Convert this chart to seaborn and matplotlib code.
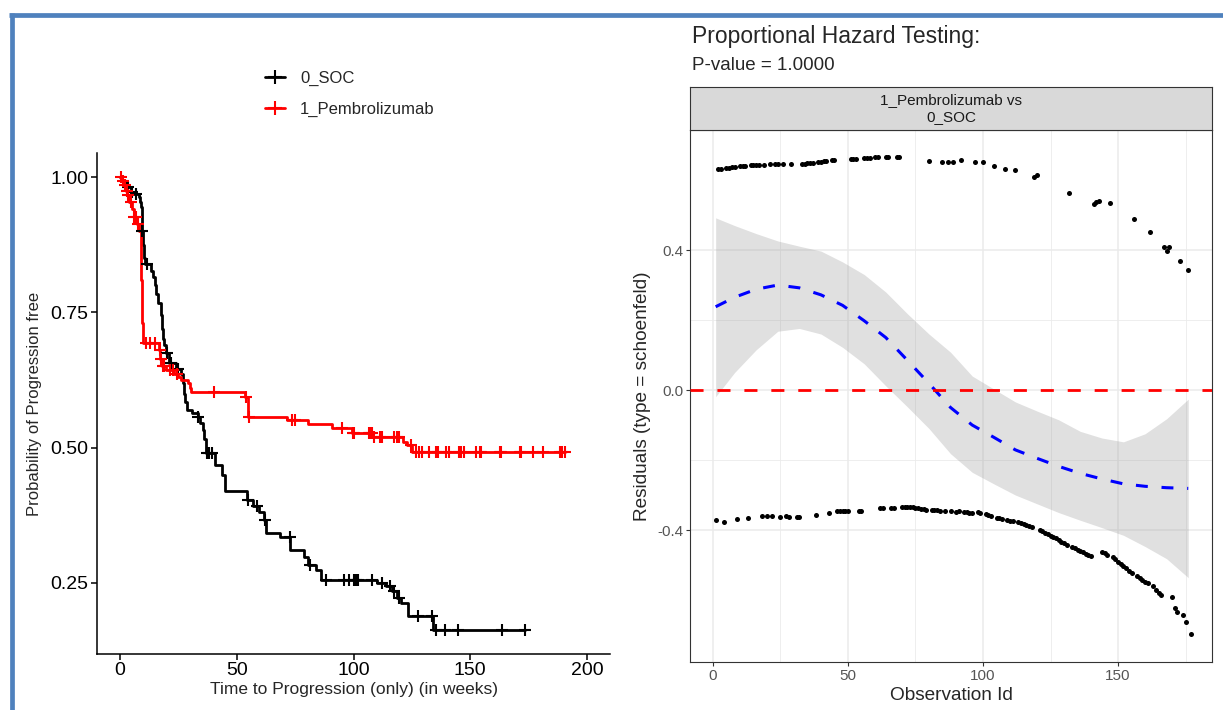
import numpy as np
import pandas as pd
import matplotlib
matplotlib.use("Agg")
import matplotlib.pyplot as plt
from matplotlib.lines import Line2D
import seaborn as sns

# ---------------- Kaplan-Meier estimates (time in weeks, survival after each step) ----------------
soc_time = [0, 1.0, 2.5, 3.2, 4.5, 6.0, 8.0, 8.6, 9.0, 9.3, 9.6, 9.9, 10.2, 10.5, 13.1,
            14.0, 14.8, 15.5, 16.3, 17.6, 18.0, 18.5, 19.0, 19.8, 21.0, 24.0, 26.0, 26.8,
            27.5, 28.0, 28.8, 31.0, 33.3, 34.2, 35.4, 36.0, 36.8, 40.5, 43.5, 45.0, 54.5,
            57.0, 59.5, 61.5, 62.7, 68.4, 73.0, 78.7, 80.5, 84.0, 86.0, 110.1, 114.0,
            116.5, 118.5, 120.5, 123.2, 134.2]
soc_surv = [1.0, 0.994, 0.988, 0.982, 0.973, 0.970, 0.964, 0.955, 0.945, 0.925, 0.900,
            0.875, 0.850, 0.840, 0.827, 0.816, 0.800, 0.785, 0.767, 0.745, 0.720, 0.700,
            0.690, 0.675, 0.656, 0.645, 0.637, 0.619, 0.600, 0.585, 0.570, 0.563, 0.557,
            0.545, 0.533, 0.515, 0.490, 0.468, 0.450, 0.419, 0.403, 0.391, 0.380, 0.366,
            0.342, 0.335, 0.311, 0.298, 0.282, 0.274, 0.255, 0.249, 0.243, 0.234, 0.222,
            0.213, 0.188, 0.163]
soc_cens = [3.5, 5.2, 7.0, 9.6, 11.5, 20.3, 21.8, 24.9, 33.3, 37.3, 38.3, 39.3, 54.8,
            58.5, 62.0, 72.8, 81.4, 88.3, 95.8, 98.2, 100.1, 101.1, 101.9, 107.7, 112.0,
            115.5, 117.5, 119.5, 127.4, 133.4, 135.3, 139.1, 144.9, 163.6, 173.4]

pem_time = [0, 0.8, 1.8, 2.5, 3.2, 4.0, 5.0, 5.8, 7.4, 8.2, 8.8, 9.0, 9.2, 9.4, 9.6, 9.8,
            16.7, 17.2, 17.9, 19.5, 23.0, 24.7, 26.0, 29.0, 30.0, 30.4, 53.4, 54.8, 71.3,
            80.7, 90.8, 99.4, 108.0, 121.0, 123.0, 125.2]
pem_surv = [1.0, 0.993, 0.985, 0.975, 0.967, 0.955, 0.942, 0.927, 0.914, 0.900, 0.880,
            0.850, 0.810, 0.770, 0.730, 0.694, 0.680, 0.664, 0.650, 0.643, 0.637, 0.631,
            0.625, 0.619, 0.610, 0.603, 0.594, 0.557, 0.551, 0.543, 0.536, 0.527, 0.520,
            0.511, 0.505, 0.492]
pem_cens = [0.3, 1.2, 2.0, 2.8, 3.6, 4.5, 6.2, 6.8, 7.6, 11.0, 13.0, 14.8, 17.0, 17.6,
            18.4, 19.0, 21.5, 22.5, 24.3, 40.4, 53.8, 55.2, 73.5, 74.9, 95.0, 99.8, 100.3,
            106.5, 107.2, 107.8, 108.7, 111.5, 112.3, 117.3, 118.8, 119.5, 124.6, 126.6,
            128.0, 129.5, 132.4, 135.2, 136.0, 139.6, 141.0, 145.3, 146.0, 147.5, 152.5,
            154.0, 154.7, 162.6, 163.3, 171.2, 171.9, 176.9, 181.3, 188.4, 189.2, 190.5]

group_labels = ["0_SOC", "1_Pembrolizumab"]
group_colors = ["black", "red"]

# ---------------- Schoenfeld residuals ----------------
up_id = [2, 3, 5, 6, 7, 8, 10, 11, 12, 14, 15, 16, 17, 19, 21, 23, 24, 26, 29, 33, 34, 35,
         36, 37, 39, 40, 41, 42, 44, 45, 51, 52, 53, 56, 57, 58, 60, 61, 64, 65, 68, 69,
         80, 85, 87, 89, 92, 97, 100, 104, 108, 112, 119, 120, 132, 141, 142, 143, 147,
         156, 162, 167, 168, 169, 173, 176]
up_res = [0.631, 0.633, 0.634, 0.635, 0.636, 0.637, 0.639, 0.640, 0.641, 0.642, 0.643,
          0.643, 0.644, 0.644, 0.645, 0.645, 0.646, 0.646, 0.646, 0.646, 0.647, 0.648,
          0.649, 0.650, 0.651, 0.652, 0.654, 0.655, 0.657, 0.658, 0.660, 0.661, 0.661,
          0.662, 0.663, 0.664, 0.665, 0.666, 0.667, 0.667, 0.667, 0.667, 0.655, 0.652,
          0.652, 0.653, 0.657, 0.652, 0.652, 0.640, 0.632, 0.629, 0.608, 0.615, 0.562,
          0.531, 0.538, 0.540, 0.535, 0.488, 0.453, 0.410, 0.398, 0.408, 0.369, 0.342]
lo_id = [1, 4, 9, 13, 18, 20, 22, 25, 27, 28, 31, 32, 38, 43, 46, 47, 48, 49, 50, 54, 55,
         62, 63, 66, 67, 70, 71, 72, 73, 74, 75, 76, 77, 78, 79, 81, 82, 83, 84, 86, 88,
         90, 91, 93, 94, 95, 96, 98, 99, 101, 102, 103, 105, 106, 107, 109, 110, 111,
         113, 114, 115, 116, 117, 118, 121, 122, 123, 124, 125, 126, 127, 128, 129, 130,
         131, 133, 134, 135, 136, 137, 138, 139, 140, 144, 145, 146, 148, 149, 150, 151,
         152, 153, 154, 155, 157, 158, 159, 160, 161, 163, 164, 165, 166, 170, 171, 172,
         174, 175, 177]
lo_res = [-0.370, -0.376, -0.368, -0.365, -0.360, -0.359, -0.359, -0.362, -0.361, -0.362,
          -0.362, -0.363, -0.357, -0.350, -0.346, -0.346, -0.346, -0.346, -0.346, -0.345,
          -0.345, -0.338, -0.338, -0.337, -0.337, -0.334, -0.333, -0.333, -0.334, -0.335,
          -0.336, -0.338, -0.339, -0.341, -0.342, -0.343, -0.344, -0.344, -0.345, -0.346,
          -0.346, -0.347, -0.345, -0.347, -0.349, -0.350, -0.351, -0.349, -0.351, -0.353,
          -0.357, -0.361, -0.365, -0.366, -0.368, -0.371, -0.373, -0.374, -0.378, -0.380,
          -0.382, -0.385, -0.388, -0.391, -0.400, -0.404, -0.408, -0.412, -0.416, -0.420,
          -0.424, -0.428, -0.433, -0.438, -0.443, -0.448, -0.452, -0.456, -0.460, -0.464,
          -0.468, -0.471, -0.474, -0.462, -0.466, -0.470, -0.478, -0.484, -0.490, -0.496,
          -0.502, -0.509, -0.516, -0.522, -0.530, -0.536, -0.542, -0.547, -0.552, -0.560,
          -0.571, -0.579, -0.586, -0.590, -0.624, -0.633, -0.643, -0.662, -0.698]

# smoothed trend and its confidence band
fit_id = [1, 8, 16, 24, 32, 40, 48, 56, 64, 72, 80, 88, 96, 104, 112, 120, 128, 136, 144,
          152, 160, 168, 176]
fit_res = [0.238, 0.265, 0.288, 0.300, 0.292, 0.272, 0.242, 0.198, 0.150, 0.085, 0.019,
           -0.050, -0.100, -0.135, -0.171, -0.195, -0.218, -0.238, -0.254, -0.268, -0.275,
           -0.279, -0.281]
fit_hi = [0.492, 0.470, 0.447, 0.426, 0.411, 0.397, 0.366, 0.330, 0.280, 0.218, 0.160,
          0.108, 0.040, 0.003, -0.034, -0.060, -0.085, -0.118, -0.137, -0.148, -0.125,
          -0.082, -0.026]
fit_lo = [-0.019, 0.050, 0.115, 0.168, 0.176, 0.160, 0.122, 0.075, 0.012, -0.048, -0.110,
          -0.182, -0.235, -0.268, -0.300, -0.325, -0.350, -0.372, -0.393, -0.415, -0.447,
          -0.482, -0.536]

# ---------------- figure ----------------
sns.set_theme(style="white")
plt.rcParams["font.family"] = ["Liberation Sans", "DejaVu Sans"]

W, H = 1223, 710
fig = plt.figure(figsize=(W / 100, H / 100), dpi=100)
fig.patch.set_facecolor("white")


def box(x0, y0, x1, y1):
    """Pixel box measured from the top-left corner -> figure-fraction rect."""
    return [x0 / W, 1 - y1 / H, (x1 - x0) / W, (y1 - y0) / H]


# ---- Kaplan-Meier panel ----
axk = fig.add_axes(box(96.65, 153, 610.4, 654))
km = [(soc_time, soc_surv, soc_cens), (pem_time, pem_surv, pem_cens)]
for (t, s, c), col in zip(km, group_colors):
    t_line = list(t) + [max(c)]
    s_line = list(s) + [s[-1]]
    sns.lineplot(x=t_line, y=s_line, drawstyle="steps-post", color=col, lw=2.0,
                 estimator=None, sort=False, ax=axk)
    idx = np.searchsorted(t, c, side="right") - 1
    sns.scatterplot(x=c, y=np.asarray(s)[idx], marker="+", s=75, color=col,
                    edgecolor=col, linewidth=1.5, ax=axk, zorder=3)

axk.set_xlim(-10, 210)
axk.set_ylim(0.118, 1.045)
axk.set_xticks([0, 50, 100, 150, 200])
axk.set_yticks([0.25, 0.50, 0.75, 1.00])
axk.set_yticklabels(["0.25", "0.50", "0.75", "1.00"])
for sp in ["top", "right"]:
    axk.spines[sp].set_visible(False)
for sp in ["left", "bottom"]:
    axk.spines[sp].set_color("black")
    axk.spines[sp].set_linewidth(1.1)
axk.tick_params(axis="both", direction="out", length=4, width=1.1, color="black",
                labelsize=14, labelcolor="black", pad=2, left=True, bottom=True)
axk.set_xlabel("Time to Progression (only) (in weeks)", fontsize=12.5, labelpad=2)
axk.set_ylabel("Probability of Progression free", fontsize=12, labelpad=6)

handles = [Line2D([], [], color=col, lw=2.0, marker="+", markersize=10,
                  markeredgewidth=1.5) for col in group_colors]
axk.legend(handles, group_labels, loc="center left",
           bbox_to_anchor=(265 / W, 1 - 93.5 / H), bbox_transform=fig.transFigure,
           frameon=False, fontsize=12, handlelength=1.2, handletextpad=0.9,
           labelspacing=0.95, borderpad=0, borderaxespad=0)

# ---- Schoenfeld residual panel ----
axr = fig.add_axes(box(690, 130, 1212, 662))
axr.set_facecolor("white")
axr.set_xlim(-8.5, 184.8)
axr.set_ylim(-0.777, 0.743)
axr.set_xticks([0, 50, 100, 150])
axr.set_xticks([25, 75, 125, 175], minor=True)
axr.set_yticks([-0.4, 0.0, 0.4])
axr.set_yticks([-0.2, 0.2], minor=True)
axr.set_yticklabels(["-0.4", "0.0", "0.4"])
axr.grid(which="major", color="#EBEBEB", lw=1.1)
axr.grid(which="minor", color="#EBEBEB", lw=0.6)
axr.set_axisbelow(True)

axr.fill_between(fit_id, fit_lo, fit_hi, color="#999999", alpha=0.3, lw=0, zorder=1)
resid = pd.DataFrame({"obs": up_id + lo_id, "res": up_res + lo_res})
sns.scatterplot(data=resid, x="obs", y="res", color="black", s=13, linewidth=0,
                ax=axr, zorder=3)
sns.lineplot(x=fit_id, y=fit_res, color="blue", lw=2.2, linestyle=(0, (3.9, 4.5)),
             estimator=None, sort=False, ax=axr, zorder=4)
axr.axhline(0, color="red", lw=2.0, linestyle=(0, (4.7, 5.0)), zorder=4)

for sp in axr.spines.values():
    sp.set_color("#333333")
    sp.set_linewidth(0.8)
axr.tick_params(axis="both", which="major", direction="out", length=3, width=0.8,
                color="#333333", labelsize=11, labelcolor="#555555", pad=2,
                left=True, bottom=True)
axr.tick_params(axis="both", which="minor", length=0)
axr.set_xlabel("Observation Id", fontsize=13.7, labelpad=3)
axr.set_ylabel("Residuals (type = schoenfeld)", fontsize=13.7, labelpad=4)

# facet strip
axs = fig.add_axes(box(690, 87, 1212, 130))
axs.set_facecolor("#D9D9D9")
axs.set_xticks([])
axs.set_yticks([])
for sp in axs.spines.values():
    sp.set_color("#333333")
    sp.set_linewidth(0.8)
axs.text(0.5, 0.5, "1_Pembrolizumab vs\n0_SOC", ha="center", va="center", fontsize=11,
         color="#1A1A1A", linespacing=1.2, transform=axs.transAxes)

fig.text(692 / W, 1 - 36 / H, "Proportional Hazard Testing:", fontsize=16.5,
         ha="left", va="center")
fig.text(692 / W, 1 - 65 / H, "P-value = 1.0000", fontsize=13.5, ha="left", va="center")

# slide frame
frame_col = "#4F81BD"
fig.add_artist(Line2D([11.5 / W, 11.5 / W], [0, 1 - 12.5 / H], transform=fig.transFigure,
                      color=frame_col, lw=3.4, solid_capstyle="butt"))
fig.add_artist(Line2D([9.0 / W, 1], [1 - 14.5 / H, 1 - 14.5 / H], transform=fig.transFigure,
                      color=frame_col, lw=3.4, solid_capstyle="butt"))

fig.savefig("out.png", dpi=100, facecolor="white")
